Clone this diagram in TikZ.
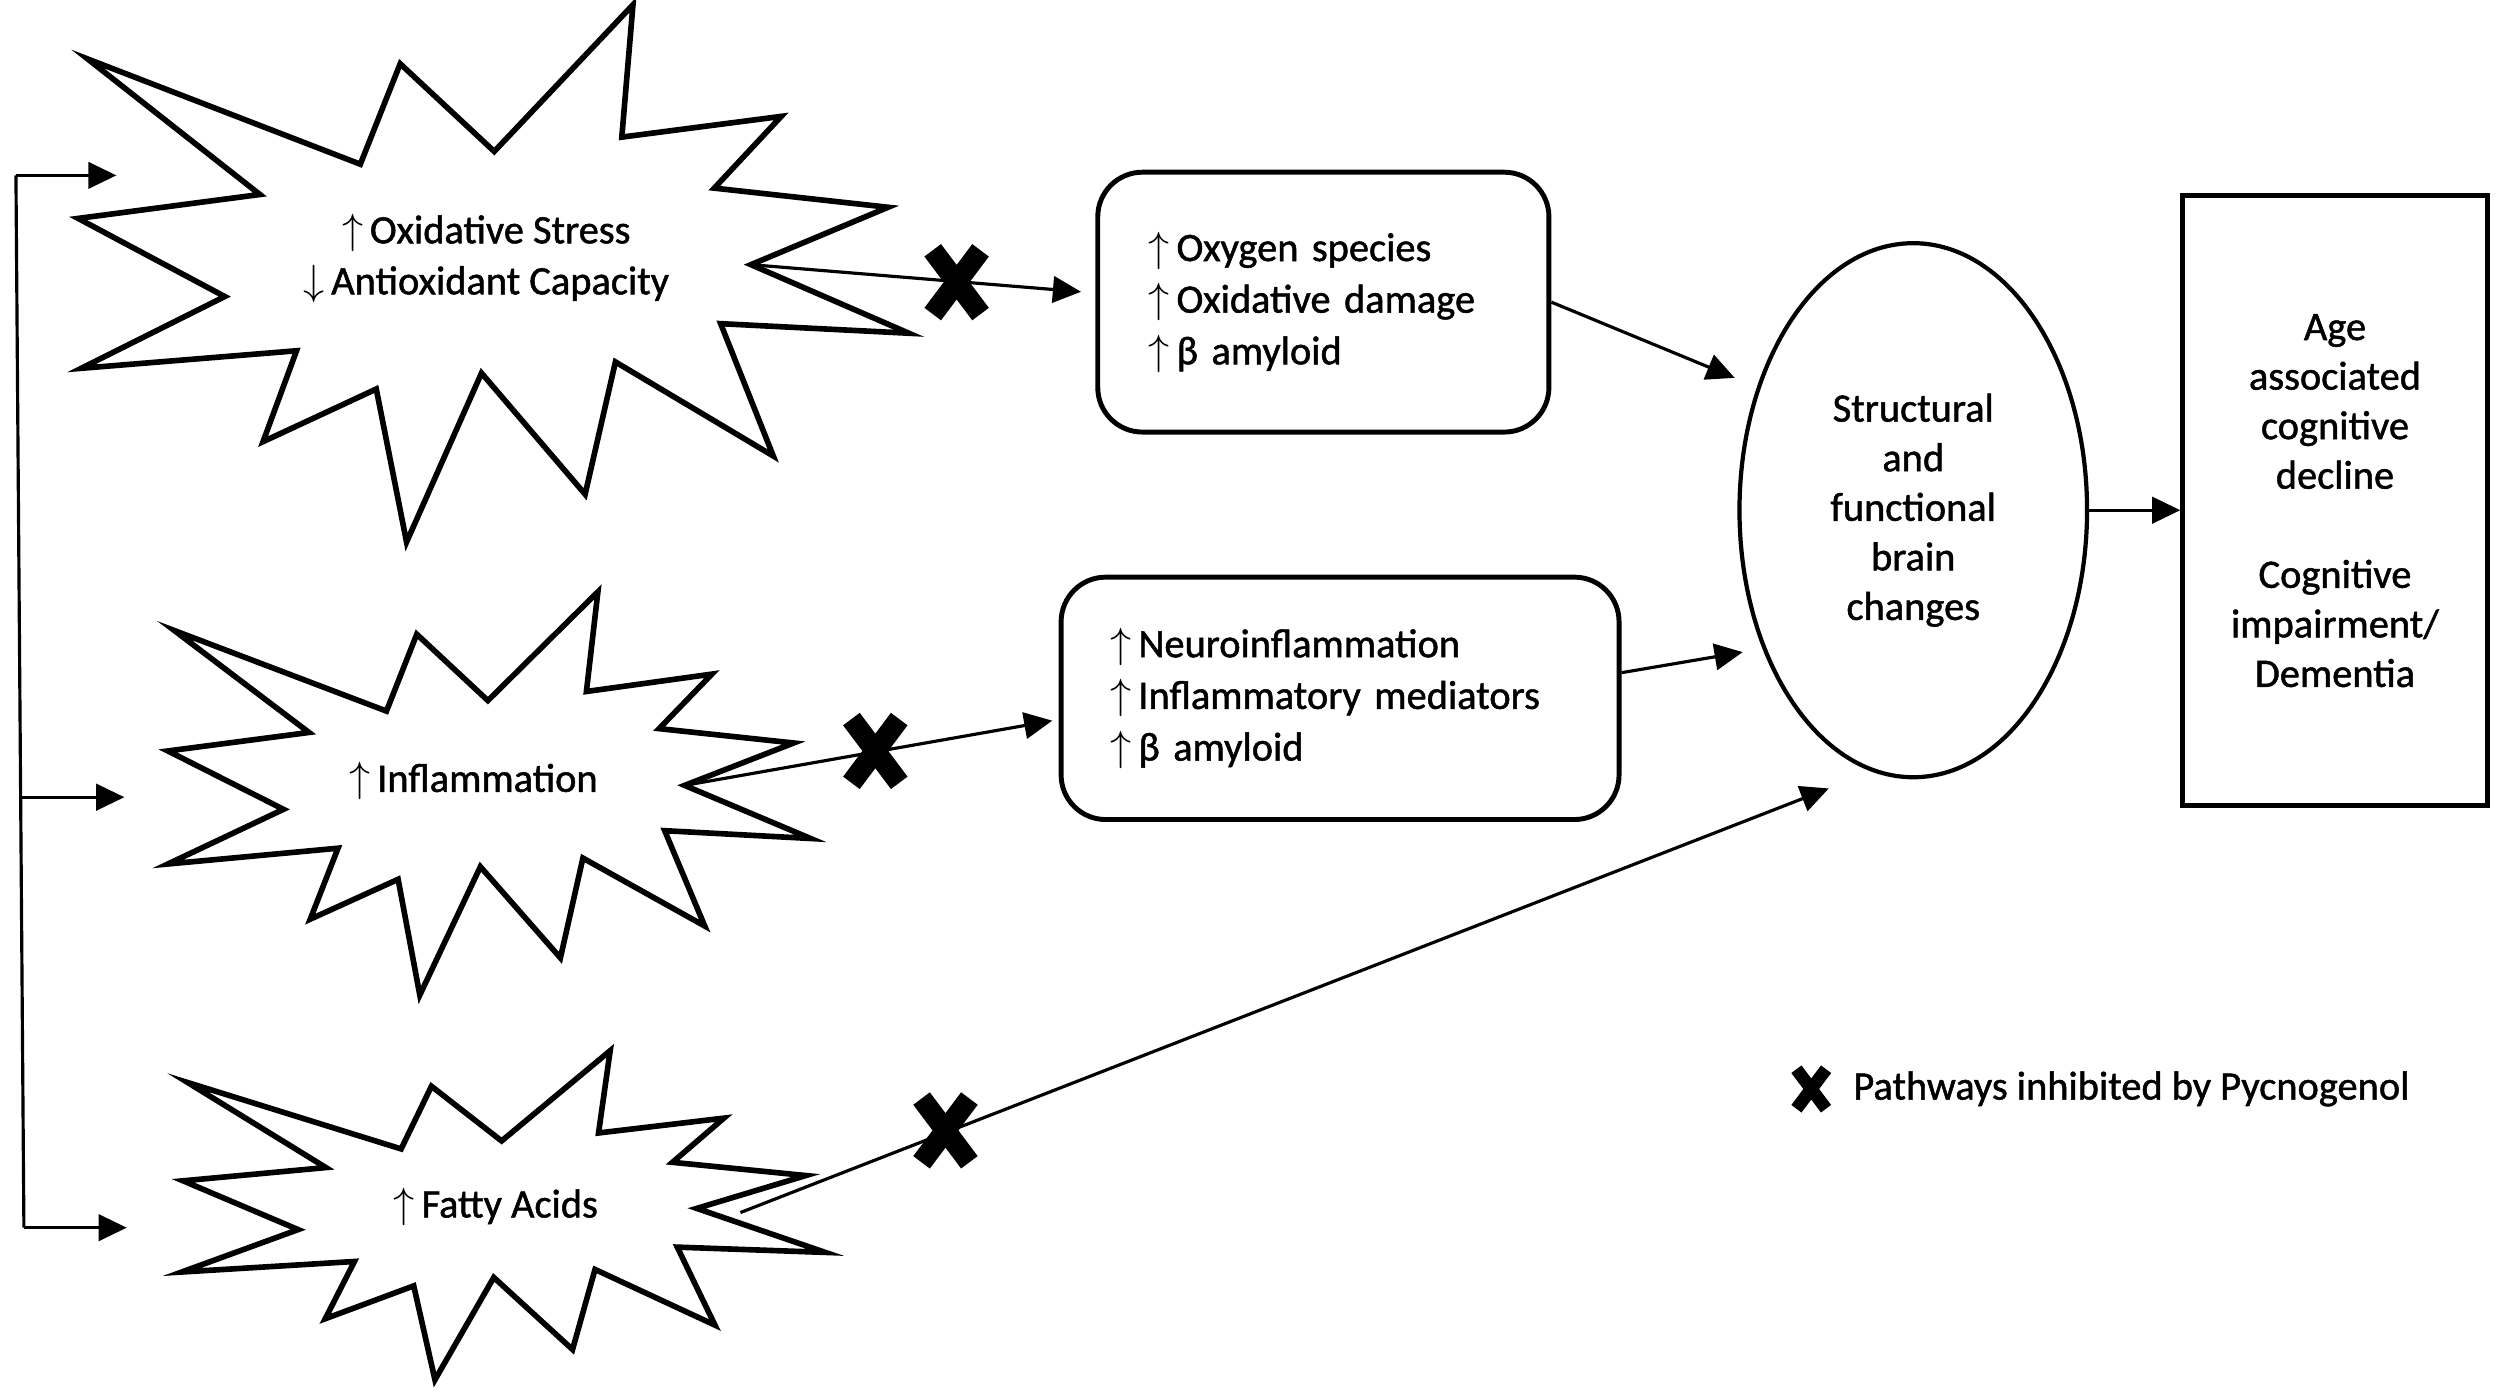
\documentclass[tikz,border=0pt]{standalone}
\usepackage{fontspec}
\setmainfont{Carlito}[FakeBold=1.2]
\usetikzlibrary{shapes.geometric,arrows.meta}
\begin{document}
\begin{tikzpicture}[x=0.015944cm,y=-0.015944cm,
  starline/.style={line width=1.6pt, line join=miter, miter limit=20},
  conn/.style={line width=0.9pt,-{Triangle[length=8pt,width=7.5pt]}},
  plainline/.style={line width=0.9pt},
  txt/.style={font=\fontsize{11.5}{14.5}\selectfont, align=center, inner sep=0pt},
  rbox/.style={draw, line width=1.4pt, rounded corners=0.446cm, align=left, inner ysep=0pt},
  xmk/.pic={\draw[line width=5.9pt] (-15,-20) -- (15,20) (-15,20) -- (15,-20);},
  xmksmall/.pic={\draw[line width=3.6pt] (-9.3,-12.4) -- (9.3,12.4) (-9.3,12.4) -- (9.3,-12.4);}
]
\useasboundingbox (0,0) rectangle (1568,873);

% stars
\draw[starline] (55,37) -- (226,103) -- (251,40) -- (310,95) -- (397,3) -- (390,86)
  -- (490,73) -- (448,118) -- (557,130) -- (471,166) -- (570,209) -- (452,203)
  -- (485,286) -- (386,227) -- (367,310) -- (302,234) -- (255,340) -- (236,244)
  -- (165,277) -- (186,220) -- (51,231) -- (141,186) -- (49,137) -- (163,122) -- cycle;
\draw[starline] (109.4,395.5) -- (242.4,446) -- (261.4,397.8) -- (306,439.4) -- (375,371.2)
  -- (367.8,433.7) -- (446.5,422.8) -- (413.4,457) -- (497.8,466) -- (429.4,492.6)
  -- (508.4,525.9) -- (416.9,521) -- (442,580.8) -- (365.6,538.2) -- (351.5,600.8)
  -- (301.3,543.6) -- (263.3,624.1) -- (249.7,551.5) -- (194.6,576.5) -- (212,532)
  -- (105.3,541.9) -- (177.8,507.6) -- (105.3,471) -- (193.8,459.4) -- cycle;
\draw[starline] (117.8,679) -- (251.6,720.6) -- (270.6,681.3) -- (314.6,715.6) -- (382.7,659)
  -- (375.4,710.6) -- (454,701.3) -- (421.8,729) -- (505.4,737.3) -- (437,757.9)
  -- (517.6,785.5) -- (424.8,782.2) -- (448.4,831.1) -- (373.2,796.2) -- (359.1,846.4)
  -- (309.7,801.2) -- (272.8,865.4) -- (259.5,806.5) -- (204,827.1) -- (222.3,791.2)
  -- (114,797.8) -- (187,771.2) -- (114.8,740.6) -- (204.4,732.3) -- cycle;

% star texts
\node[txt] (s1) at (305,162) {$\uparrow$\,Oxidative Stress\\$\downarrow$\,Antioxidant Capacity};
\node[txt] (s2) at (297,490) {$\uparrow$\,Inflammation};
\node[txt] (s3) at (311,757) {$\uparrow$\,Fatty Acids};

% boxes
\node[rbox, font=\fontsize{11.5}{14.7}\selectfont, minimum height=2.599cm,
  inner xsep=0.510cm, text width=3.492cm] (box1) at (830,189.5)
  {$\uparrow$\,Oxygen species\\$\uparrow$\,Oxidative damage\\$\uparrow$\,β amyloid};
\node[rbox, font=\fontsize{11.5}{14.7}\selectfont, minimum height=2.424cm,
  inner xsep=0.494cm, text width=4.592cm] (box2) at (840.5,438)
  {$\uparrow$\,Neuroinflammation\\$\uparrow$\,Inflammatory mediators\\$\uparrow$\,β amyloid};
\node[draw, ellipse, line width=1.2pt, minimum width=3.476cm, minimum height=5.341cm,
  inner sep=0pt, align=center, font=\fontsize{11.5}{14.1}\selectfont] (ell) at (1200,320)
  {Structural\\and\\functional\\brain\\changes};
\node[draw, rectangle, line width=1.4pt, minimum width=3.045cm, minimum height=6.106cm,
  inner sep=0pt, align=center, font=\fontsize{11.5}{14.1}\selectfont] (res) at (1464.5,314)
  {Age\\associated\\cognitive\\decline\\[14.1pt]Cognitive\\impairment/\\Dementia};

% coordinates
\coordinate (b1) at (10,110);
\coordinate (b2) at (13.8,500);
\coordinate (b3) at (15,770);
\coordinate (a1) at (73,110);
\coordinate (a2) at (78,500);
\coordinate (a3) at (79.5,770);
\coordinate (o1) at (471,166);
\coordinate (o2) at (429.4,492.6);
\coordinate (o3) at (464.4,760.5);
\coordinate (t1) at (678,183);
\coordinate (t2) at (660,452);
\coordinate (t3) at (1147,494.5);
\coordinate (u1) at (1088,237);
\coordinate (u2) at (1093,409);

% left bracket
\draw[plainline] (b1) -- (b3);
\draw[conn] (b1) -- (a1);
\draw[conn] (b2) -- (a2);
\draw[conn] (b3) -- (a3);

% connectors
\draw[conn] (o1) -- (t1);
\draw[conn] (o2) -- (t2);
\draw[conn] (o3) -- (t3);
\draw[conn] (box1.east) -- (u1);
\draw[conn] ([yshift=7.3pt]box2.east) -- (u2);
\draw[conn] (ell.east) -- (ell.east -| res.west);

% crosses
\pic at (600,177) {xmk};
\pic at (549,471) {xmk};
\pic at (593,709) {xmk};
\pic at (1136,683) {xmksmall};
\node[txt, anchor=west] (leg) at (1162,683) {Pathways inhibited by Pycnogenol};
\end{tikzpicture}
\end{document}
